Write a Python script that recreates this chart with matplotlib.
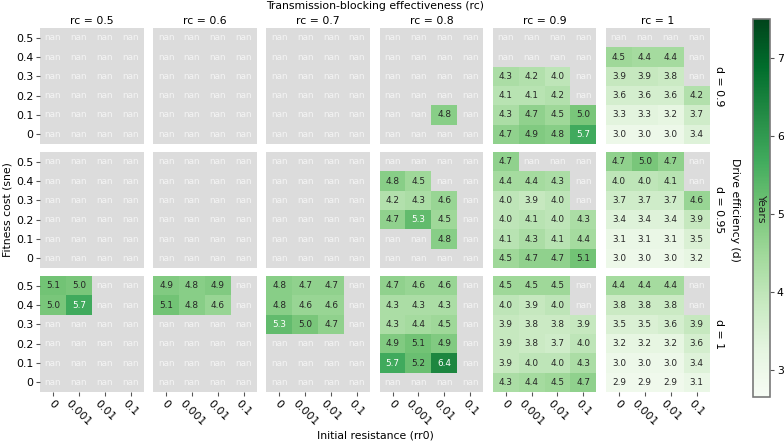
import numpy as np
import matplotlib
matplotlib.use("Agg")
import matplotlib.pyplot as plt
from matplotlib import colors as mcolors

N = np.nan

rc_values = ["0.5", "0.6", "0.7", "0.8", "0.9", "1"]
d_values = ["0.9", "0.95", "1"]
sne_labels = ["0.5", "0.4", "0.3", "0.2", "0.1", "0"]
rr0_labels = ["0", "0.001", "0.01", "0.1"]

empty = [[N, N, N, N]] * 6

# d = 0.9 (rows: sne 0.5 -> 0 ; cols: rr0 0, 0.001, 0.01, 0.1)
d090_rc08 = [[N, N, N, N], [N, N, N, N], [N, N, N, N], [N, N, N, N], [N, N, 4.8, N], [N, N, N, N]]
d090_rc09 = [[N, N, N, N], [N, N, N, N], [4.3, 4.2, 4.0, N], [4.1, 4.1, 4.2, N], [4.3, 4.7, 4.5, 5.0], [4.7, 4.9, 4.8, 5.7]]
d090_rc10 = [[N, N, N, N], [4.5, 4.4, 4.4, N], [3.9, 3.9, 3.8, N], [3.6, 3.6, 3.6, 4.2], [3.3, 3.3, 3.2, 3.7], [3.0, 3.0, 3.0, 3.4]]

# d = 0.95
d095_rc08 = [[N, N, N, N], [4.8, 4.5, N, N], [4.2, 4.3, 4.6, N], [4.7, 5.3, 4.5, N], [N, N, 4.8, N], [N, N, N, N]]
d095_rc09 = [[4.7, N, N, N], [4.4, 4.4, 4.3, N], [4.0, 3.9, 4.0, N], [4.0, 4.1, 4.0, 4.3], [4.1, 4.3, 4.1, 4.4], [4.5, 4.7, 4.7, 5.1]]
d095_rc10 = [[4.7, 5.0, 4.7, N], [4.0, 4.0, 4.1, N], [3.7, 3.7, 3.7, 4.6], [3.4, 3.4, 3.4, 3.9], [3.1, 3.1, 3.1, 3.5], [3.0, 3.0, 3.0, 3.2]]

# d = 1
d100_rc05 = [[5.1, 5.0, N, N], [5.0, 5.7, N, N], [N, N, N, N], [N, N, N, N], [N, N, N, N], [N, N, N, N]]
d100_rc06 = [[4.9, 4.8, 4.9, N], [5.1, 4.8, 4.6, N], [N, N, N, N], [N, N, N, N], [N, N, N, N], [N, N, N, N]]
d100_rc07 = [[4.8, 4.7, 4.7, N], [4.8, 4.6, 4.6, N], [5.3, 5.0, 4.7, N], [N, N, N, N], [N, N, N, N], [N, N, N, N]]
d100_rc08 = [[4.7, 4.6, 4.6, N], [4.3, 4.3, 4.3, N], [4.3, 4.4, 4.5, N], [4.9, 5.1, 4.9, N], [5.7, 5.2, 6.4, N], [N, N, N, N]]
d100_rc09 = [[4.5, 4.5, 4.5, N], [4.0, 3.9, 4.0, N], [3.9, 3.8, 3.8, 3.9], [3.9, 3.8, 3.7, 4.0], [3.9, 4.0, 4.0, 4.3], [4.3, 4.4, 4.5, 4.7]]
d100_rc10 = [[4.4, 4.4, 4.4, N], [3.8, 3.8, 3.8, N], [3.5, 3.5, 3.6, 3.9], [3.2, 3.2, 3.2, 3.6], [3.0, 3.0, 3.0, 3.4], [2.9, 2.9, 2.9, 3.1]]

panels = [
    [empty, empty, empty, d090_rc08, d090_rc09, d090_rc10],
    [empty, empty, empty, d095_rc08, d095_rc09, d095_rc10],
    [d100_rc05, d100_rc06, d100_rc07, d100_rc08, d100_rc09, d100_rc10],
]

VMIN, VMAX = 2.65, 7.5
W, H = 784, 441
DPI = 98
FS = 8
fig = plt.figure(figsize=(W / DPI, H / DPI), dpi=DPI)
cmap = plt.get_cmap("Greens")
norm = mcolors.Normalize(vmin=VMIN, vmax=VMAX)
NAN_BG = "#dcdcdc"

def px_axes(x0, y0, x1, y1):
    return fig.add_axes([x0 / W, 1 - y1 / H, (x1 - x0) / W, (y1 - y0) / H])

col_x0, col_step, col_w = 40, 113.2, 103.5
row_y0, row_step, row_h = 28, 124, 116

for r in range(3):
    for c in range(6):
        x0 = col_x0 + c * col_step
        y0 = row_y0 + r * row_step
        ax = px_axes(x0, y0, x0 + col_w, y0 + row_h)
        data = np.array(panels[r][c], dtype=float)
        ax.set_facecolor(NAN_BG)
        masked = np.ma.masked_invalid(data)
        ax.pcolormesh(np.arange(5), np.arange(7), masked, cmap=cmap, norm=norm)
        ax.set_xlim(0, 4)
        ax.set_ylim(6, 0)
        for s in ax.spines.values():
            s.set_visible(False)
        for i in range(6):
            for j in range(4):
                v = data[i, j]
                if np.isnan(v):
                    ax.text(j + 0.5, i + 0.5, "nan", ha="center", va="center",
                            fontsize=6.5, color="#f4f4f4")
                else:
                    rgb = cmap(norm(v))[:3]
                    lum = 0.2126 * rgb[0] ** 2.2 + 0.7152 * rgb[1] ** 2.2 + 0.0722 * rgb[2] ** 2.2
                    tc = "#262626" if lum > 0.408 else "white"
                    ax.text(j + 0.5, i + 0.5, f"{v:.1f}", ha="center", va="center",
                            fontsize=6.5, color=tc)
        if c == 0:
            ax.set_yticks(np.arange(6) + 0.5)
            ax.set_yticklabels(sne_labels, fontsize=FS)
            ax.tick_params(axis="y", length=3, width=0.8, color="#555555", pad=2)
        else:
            ax.set_yticks([])
        if r == 2:
            ax.set_xticks(np.arange(4) + 0.5)
            ax.set_xticklabels(rr0_labels, fontsize=FS, rotation=-45)
            ax.tick_params(axis="x", length=3, width=0.8, color="#555555", pad=2)
        else:
            ax.set_xticks([])
        if r == 0:
            ax.set_title(f"rc = {rc_values[c]}", fontsize=FS, pad=3)
        if c == 5:
            ax.text(1.045, 0.5, f"d = {d_values[r]}", transform=ax.transAxes,
                    rotation=-90, ha="left", va="center", fontsize=FS)

fig.text(375 / W, 1 - 6 / H, "Transmission-blocking effectiveness (rc)",
         ha="center", va="center", fontsize=FS)
fig.text(375 / W, 1 - 435 / H, "Initial resistance (rr0)",
         ha="center", va="center", fontsize=FS)
fig.text(8 / W, 1 - 210 / H, "Fitness cost (sne)", rotation=90,
         ha="center", va="center", fontsize=FS)
fig.text(735 / W, 1 - 210 / H, "Drive efficiency (d)", rotation=-90,
         ha="center", va="center", fontsize=FS)

cax = px_axes(753, 19, 770, 397)
sm = plt.cm.ScalarMappable(norm=norm, cmap=cmap)
cb = fig.colorbar(sm, cax=cax)
cb.set_ticks([3, 4, 5, 6, 7])
cb.ax.tick_params(labelsize=FS, length=3, width=0.8, color="#555555", pad=2)
cb.outline.set_edgecolor("#777777")
cb.outline.set_linewidth(1.2)
cax.text(0.5, 0.5, "Years", transform=cax.transAxes, rotation=-90,
         ha="center", va="center", fontsize=FS, color="#1f1f1f")

fig.savefig("out.png", dpi=DPI)
